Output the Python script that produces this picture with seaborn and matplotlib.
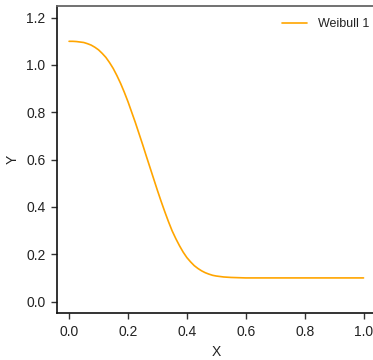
import matplotlib
matplotlib.use("Agg")
import matplotlib.pyplot as plt
import seaborn as sns
import pandas as pd

x_vals = [0.0, 0.0125, 0.025, 0.0375, 0.05, 0.0625, 0.075, 0.0875, 0.1, 0.1125,
          0.125, 0.1375, 0.15, 0.1625, 0.175, 0.1875, 0.2, 0.2125, 0.225, 0.2375,
          0.25, 0.2625, 0.275, 0.2875, 0.3, 0.3125, 0.325, 0.3375, 0.35, 0.3625,
          0.375, 0.3875, 0.4, 0.4125, 0.425, 0.4375, 0.45, 0.4625, 0.475, 0.4875,
          0.5, 0.5125, 0.525, 0.5375, 0.55, 0.5625, 0.575, 0.5875, 0.6,
          0.7, 0.8, 0.9, 1.0]
y_vals = [1.100, 1.100, 1.099, 1.097, 1.095, 1.090, 1.084, 1.075, 1.064, 1.049,
          1.032, 1.010, 0.985, 0.955, 0.922, 0.885, 0.845, 0.801, 0.757, 0.710,
          0.663, 0.614, 0.566, 0.518, 0.470, 0.424, 0.380, 0.338, 0.299, 0.266,
          0.236, 0.209, 0.186, 0.168, 0.152, 0.140, 0.130, 0.122, 0.116, 0.111,
          0.108, 0.106, 0.104, 0.103, 0.102, 0.1015, 0.101, 0.1005, 0.100,
          0.100, 0.100, 0.100, 0.100]
series_name = "Weibull 1"
x_ticks = [0.0, 0.2, 0.4, 0.6, 0.8, 1.0]
y_ticks = [0.0, 0.2, 0.4, 0.6, 0.8, 1.0, 1.2]

sns.set_theme(style="ticks")
plt.rcParams['font.family'] = ['Liberation Sans', 'DejaVu Sans']

df = pd.DataFrame({"X": x_vals, "Y": y_vals, "series": series_name})

fig = plt.figure(figsize=(3.73, 3.60), dpi=100)
ax = fig.add_axes([57.3 / 373, (360 - 312.7) / 360, (375.3 - 57.3) / 373, (312.7 - 6.3) / 360])

sns.lineplot(data=df, x="X", y="Y", hue="series", palette=["#FFA500"], ax=ax,
             linewidth=1.2, estimator=None, sort=False)

ax.set_xlim(-0.04, 1.04)
ax.set_ylim(-0.047, 1.248)
ax.set_xticks(x_ticks)
ax.set_yticks(y_ticks)
ax.set_xticklabels([f"{v:.1f}" for v in x_ticks])
ax.set_yticklabels([f"{v:.1f}" for v in y_ticks])
ax.tick_params(axis="both", direction="out", length=4.5, width=1.0, color="#333333",
               labelsize=10, labelcolor="#222222", pad=4)

for s in ["left", "bottom"]:
    ax.spines[s].set_color("#111111")
    ax.spines[s].set_linewidth(1.2)
ax.spines["top"].set_color("#666666")
ax.spines["top"].set_linewidth(1.3)
ax.spines["right"].set_visible(False)

ax.set_xlabel("X", fontsize=10, color="#222222", labelpad=5)
ax.set_ylabel("Y", fontsize=10, color="#222222", labelpad=4.5)

leg = ax.legend(loc="upper right", frameon=False, fontsize=9, handlelength=2.0,
                handletextpad=0.9, borderaxespad=0.3, bbox_to_anchor=(1.01, 0.99))
for t in leg.get_texts():
    t.set_color("#222222")

fig.savefig("out.png", dpi=100)
